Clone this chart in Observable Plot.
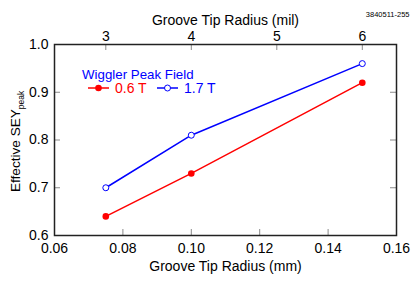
<!DOCTYPE html>
<html><head><meta charset="utf-8">
<script src="https://cdn.jsdelivr.net/npm/d3@7"></script>
<script src="https://cdn.jsdelivr.net/npm/@observablehq/plot@0.6"></script>
<style>
html,body{margin:0;padding:0;background:#fff;}
#chart{position:relative;width:415px;height:282px;}
</style></head><body><div id="chart"></div>
<script>
// ---- data ----
const radiusMM = [0.075, 0.10, 0.15];
const sey06T = [0.64, 0.73, 0.92];
const sey17T = [0.70, 0.81, 0.96];
const seriesNames = ["0.6 T", "1.7 T"];
const legendTitle = "Wiggler Peak Field";
const xTicksMM = [0.06, 0.08, 0.10, 0.12, 0.14, 0.16];
const xTicksMil = [3, 4, 5, 6];
const yTicks = [0.6, 0.7, 0.8, 0.9, 1.0];
const MM_PER_MIL = 0.025;

// ---- layout ----
const W = 415, H = 282, mt = 44, mb = 47, ml = 54, mr = 19;
const fw = W - ml - mr, fh = H - mt - mb;
const FONT = "'Liberation Sans', Arial, Helvetica, sans-serif";
const tickLen = 6, tickColor = "#8a8a8a";
const RED = "#ff0000", BLUE = "#0000ff";

const rows06 = radiusMM.map((x, i) => ({x, y: sey06T[i]}));
const rows17 = radiusMM.map((x, i) => ({x, y: sey17T[i]}));
const milAsMM = xTicksMil.map(m => m * MM_PER_MIL);

const plot = Plot.plot({
  width: W, height: H,
  marginTop: mt, marginBottom: mb, marginLeft: ml, marginRight: mr,
  style: {fontFamily: FONT, fontSize: "14px", background: "#fff", color: "#000"},
  x: {domain: [0.06, 0.16]},
  y: {domain: [0.6, 1.0]},
  marks: [
    Plot.tickX(xTicksMM, {x: d => d, stroke: tickColor, insetTop: fh - tickLen}),
    Plot.tickX(milAsMM, {x: d => d, stroke: tickColor, insetBottom: fh - tickLen}),
    Plot.tickY(yTicks, {y: d => d, stroke: tickColor, insetRight: fw - tickLen}),
    Plot.tickY(yTicks, {y: d => d, stroke: tickColor, insetLeft: fw - tickLen}),
    Plot.frame({stroke: "#222", strokeWidth: 1.5}),
    Plot.axisX(xTicksMM, {anchor: "bottom", tickSize: 0, tickPadding: 8, tickFormat: d3.format(".2f"), fontSize: 14, label: null}),
    Plot.axisX(milAsMM, {anchor: "top", tickSize: 0, tickPadding: 4, tickFormat: d => String(Math.round(d / MM_PER_MIL)), fontSize: 14, label: null}),
    Plot.axisY(yTicks, {anchor: "left", tickSize: 0, tickPadding: 6, tickFormat: d3.format(".1f"), fontSize: 14, label: null}),
    Plot.text(["Groove Tip Radius (mm)"], {frameAnchor: "bottom", dy: 35, fontSize: 14}),
    Plot.text(["Groove Tip Radius (mil)"], {frameAnchor: "top", dy: -29.5, fontSize: 14}),
    Plot.text(["3840511-255"], {frameAnchor: "top-right", dx: 13, dy: -33, textAnchor: "end", fontSize: 7.5}),
    Plot.line(rows06, {x: "x", y: "y", stroke: RED, strokeWidth: 1.5}),
    Plot.dot(rows06, {x: "x", y: "y", fill: RED, r: 3.3}),
    Plot.line(rows17, {x: "x", y: "y", stroke: BLUE, strokeWidth: 1.5}),
    Plot.dot(rows17, {x: "x", y: "y", fill: "#fff", stroke: BLUE, strokeWidth: 1, r: 3})
  ]
});
document.getElementById("chart").appendChild(plot);

// ---- y-axis label with subscript ----
const svg = d3.select(plot);
const yl = svg.append("text")
  .attr("transform", "translate(20,192) rotate(-90)")
  .attr("text-anchor", "start")
  .attr("font-family", FONT).attr("font-size", 13.6).attr("fill", "#000");
yl.append("tspan").text("Effective SEY");
yl.append("tspan").attr("font-size", 8.5).attr("dy", 3.5).text("peak");

// ---- legend ----
const lg = svg.append("g").attr("font-family", FONT).attr("text-anchor", "start");
lg.append("text").attr("x", 82).attr("y", 78.5).attr("font-size", 13.3).attr("fill", BLUE).text(legendTitle);
const items = [
  {name: seriesNames[0], color: RED, x0: 88, filled: true},
  {name: seriesNames[1], color: BLUE, x0: 157, filled: false}
];
for (const it of items) {
  lg.append("line").attr("x1", it.x0).attr("x2", it.x0 + 21).attr("y1", 88).attr("y2", 88)
    .attr("stroke", it.color).attr("stroke-width", 1.5);
  lg.append("circle").attr("cx", it.x0 + 10.5).attr("cy", 88).attr("r", it.filled ? 3.3 : 3)
    .attr("fill", it.filled ? it.color : "#fff").attr("stroke", it.color).attr("stroke-width", it.filled ? 0 : 1);
  lg.append("text").attr("x", it.x0 + 27).attr("y", 93).attr("font-size", 14).attr("fill", it.color).text(it.name);
}
</script></body></html>
